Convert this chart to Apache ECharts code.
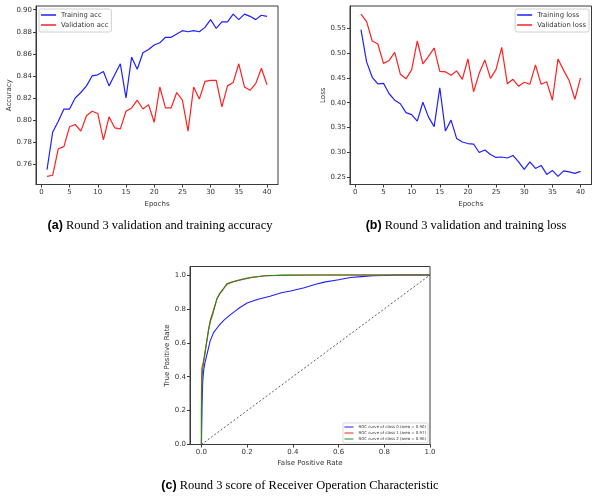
<!DOCTYPE html>
<html><head><meta charset="utf-8">
<script src="https://cdn.jsdelivr.net/npm/echarts@6/dist/echarts.min.js"></script>
<style>html,body{margin:0;padding:0;background:#fff}#c{width:600px;height:499px}</style>
</head><body><div id="c"></div>
<script>
const epochs = [1,2,3,4,5,6,7,8,9,10,11,12,13,14,15,16,17,18,19,20,21,22,23,24,25,26,27,28,29,30,31,32,33,34,35,36,37,38,39,40];
const trainAcc = [0.755,0.789,0.799,0.810,0.810,0.820,0.825,0.831,0.840,0.841,0.844,0.831,0.841,0.851,0.820,0.857,0.846,0.861,0.864,0.868,0.870,0.875,0.875,0.878,0.881,0.880,0.881,0.880,0.884,0.891,0.883,0.889,0.889,0.896,0.891,0.896,0.894,0.891,0.895,0.894];
const valAcc = [0.749,0.750,0.774,0.776,0.794,0.796,0.790,0.804,0.808,0.806,0.782,0.803,0.793,0.792,0.808,0.811,0.818,0.810,0.814,0.798,0.830,0.811,0.811,0.825,0.818,0.790,0.830,0.819,0.835,0.836,0.836,0.812,0.831,0.834,0.851,0.830,0.827,0.833,0.847,0.832];
const trainLoss = [0.547,0.482,0.451,0.438,0.439,0.418,0.405,0.398,0.380,0.376,0.363,0.401,0.371,0.352,0.430,0.343,0.365,0.328,0.321,0.318,0.317,0.300,0.305,0.296,0.290,0.291,0.289,0.294,0.281,0.266,0.281,0.268,0.274,0.256,0.264,0.252,0.263,0.261,0.258,0.262];
const valLoss = [0.578,0.563,0.524,0.518,0.479,0.485,0.501,0.457,0.448,0.466,0.524,0.478,0.493,0.510,0.463,0.462,0.455,0.464,0.447,0.488,0.422,0.459,0.486,0.449,0.467,0.511,0.438,0.447,0.433,0.441,0.437,0.476,0.437,0.442,0.405,0.488,0.465,0.444,0.407,0.450];

const roc0 = [[0,0],[0.003,0.25],[0.006,0.38],[0.01,0.44],[0.015,0.48],[0.024,0.53],[0.038,0.61],[0.053,0.66],[0.07,0.69],[0.082,0.71],[0.1,0.735],[0.126,0.765],[0.15,0.79],[0.17,0.81],[0.2,0.835],[0.244,0.855],[0.3,0.875],[0.35,0.895],[0.39,0.905],[0.45,0.925],[0.5,0.945],[0.537,0.958],[0.6,0.972],[0.652,0.985],[0.7,0.99],[0.75,0.995],[0.8,0.997],[0.85,1.0],[1.0,1.0]];
const roc1 = [[0,0],[0,0.3],[0.002,0.45],[0.009,0.49],[0.015,0.54],[0.02,0.58],[0.031,0.68],[0.04,0.74],[0.05,0.78],[0.068,0.86],[0.08,0.89],[0.09,0.91],[0.112,0.945],[0.14,0.96],[0.185,0.975],[0.22,0.985],[0.28,0.995],[0.36,0.998],[0.5,1.0],[1.0,1.0]];
const roc2 = [[0,0],[0,0.2],[0.004,0.42],[0.009,0.48],[0.015,0.53],[0.02,0.58],[0.031,0.67],[0.04,0.73],[0.05,0.77],[0.068,0.86],[0.08,0.89],[0.09,0.905],[0.112,0.95],[0.14,0.962],[0.185,0.978],[0.22,0.987],[0.28,0.995],[0.36,0.999],[0.5,1.0],[1.0,1.0]];
const diag = [[0,0],[1,1]];

const epochTicks = [0,5,10,15,20,25,30,35,40];
const accTicks = [0.76,0.78,0.80,0.82,0.84,0.86,0.88,0.90];
const lossTicks = [0.25,0.30,0.35,0.40,0.45,0.50,0.55];
const rateTicks = [0.0,0.2,0.4,0.6,0.8,1.0];

const names = {
  acc: ['Training acc','Validation acc'],
  loss: ['Training loss','Validation loss'],
  roc: ['ROC curve of class 0 (area = 0.90)','ROC curve of class 1 (area = 0.97)','ROC curve of class 2 (area = 0.96)']
};

const pair = (xs, ys) => xs.map((x, i) => [x, ys[i]]);
const F = 'DejaVu Sans';
const axisCol = '#3a3a3a';
const BLUE = '#1f1fff', RED = '#ff2020', GREEN = '#1f8f1f';

function xAx(grid, min, max, ticks, dec, name, gap) {
  return {
    type: 'value', gridIndex: grid, min: min, max: max, name: name,
    nameLocation: 'middle', nameGap: gap,
    nameTextStyle: {fontFamily: F, fontSize: 7, color: '#333'},
    axisLine: {show: true, onZero: false, lineStyle: {color: axisCol, width: 1}},
    axisTick: {show: true, length: 3, customValues: ticks, lineStyle: {color: axisCol}},
    axisLabel: {customValues: ticks, margin: 4, fontFamily: F, fontSize: 7, color: '#333',
      formatter: v => dec === 0 ? String(Math.round(v)) : v.toFixed(dec)},
    splitLine: {show: false}
  };
}
function yAx(grid, min, max, ticks, dec, name, gap) {
  return {
    type: 'value', gridIndex: grid, min: min, max: max, name: name,
    nameLocation: 'middle', nameGap: gap, nameRotate: 90,
    nameTextStyle: {fontFamily: F, fontSize: 7, color: '#333'},
    axisLine: {show: true, onZero: false, lineStyle: {color: axisCol, width: 1}},
    axisTick: {show: true, length: 3, customValues: ticks, lineStyle: {color: axisCol}},
    axisLabel: {customValues: ticks, margin: 4, fontFamily: F, fontSize: 7, color: '#333',
      formatter: v => v.toFixed(dec)},
    splitLine: {show: false}
  };
}
function line(name, data, color, xi, lw, extra) {
  return Object.assign({
    type: 'line', name: name, data: data, xAxisIndex: xi, yAxisIndex: xi,
    symbol: 'none', showSymbol: false, animation: false,
    lineStyle: {color: color, width: lw}, itemStyle: {color: color}
  }, extra || {});
}

const chart = echarts.init(document.getElementById('c'), null, {renderer: 'canvas'});
chart.setOption({
  backgroundColor: '#fff',
  animation: false,
  grid: [
    {left: 36, right: 322, top: 6, bottom: 314.5, show: true, borderColor: axisCol, borderWidth: 1},
    {left: 350, right: 8.5, top: 6, bottom: 314.5, show: true, borderColor: axisCol, borderWidth: 1},
    {left: 190, right: 170, top: 266.5, bottom: 54.5, show: true, borderColor: axisCol, borderWidth: 1}
  ],
  xAxis: [
    xAx(0, -0.95, 41.95, epochTicks, 0, 'Epochs', 16),
    xAx(1, -0.95, 41.95, epochTicks, 0, 'Epochs', 16),
    xAx(2, -0.05, 1.0, rateTicks, 1, 'False Positive Rate', 15)
  ],
  yAxis: [
    yAx(0, 0.74165, 0.90335, accTicks, 2, 'Accuracy', 23),
    yAx(1, 0.2357, 0.5943, lossTicks, 2, 'Loss', 23),
    yAx(2, 0.0, 1.05, rateTicks, 1, 'True Positive Rate', 19)
  ],
  legend: [
    {data: names.acc, orient: 'vertical', left: 39, top: 9, itemWidth: 15, itemHeight: 1.5, itemGap: 2,
     icon: 'rect', padding: [2, 3, 3, 2], borderColor: '#d0d0d0', borderWidth: 1, borderRadius: 2,
     backgroundColor: '#fff', textStyle: {fontFamily: F, fontSize: 6.8, color: '#333', lineHeight: 8}},
    {data: names.loss, orient: 'vertical', right: 11, top: 9, itemWidth: 15, itemHeight: 1.5, itemGap: 2,
     icon: 'rect', padding: [2, 3, 3, 2], borderColor: '#d0d0d0', borderWidth: 1, borderRadius: 2,
     backgroundColor: '#fff', textStyle: {fontFamily: F, fontSize: 6.8, color: '#333', lineHeight: 8}},
    {data: names.roc, orient: 'vertical', right: 172, top: 423, itemWidth: 9, itemHeight: 1, itemGap: 1,
     icon: 'rect', padding: [1.5, 2, 1.5, 1.5], borderColor: '#d0d0d0', borderWidth: 0.8, borderRadius: 1,
     backgroundColor: '#fff', textStyle: {fontFamily: F, fontSize: 3.9, color: '#333', lineHeight: 5}}
  ],
  series: [
    line(names.acc[0], pair(epochs, trainAcc), BLUE, 0, 1.2),
    line(names.acc[1], pair(epochs, valAcc), RED, 0, 1.2),
    line(names.loss[0], pair(epochs, trainLoss), BLUE, 1, 1.2),
    line(names.loss[1], pair(epochs, valLoss), RED, 1, 1.2),
    line(names.roc[0], roc0, BLUE, 2, 1.1),
    line(names.roc[1], roc1, RED, 2, 1.1),
    line(names.roc[2], roc2, GREEN, 2, 1.1),
    line('diag', diag, '#333', 2, 0.8, {lineStyle: {color: '#333', width: 0.8, type: [2, 2]}})
  ],
  graphic: [
    {type: 'text', x: 160, y: 226, style: {text: '{b|(a)} Round 3 validation and training accuracy',
      align: 'center', verticalAlign: 'middle', fontFamily: 'Liberation Serif', fontSize: 12.5, fill: '#000',
      rich: {b: {fontFamily: 'Liberation Sans', fontWeight: 'bold', fontSize: 12.5, fill: '#000'}}}},
    {type: 'text', x: 466, y: 226, style: {text: '{b|(b)} Round 3 validation and training loss',
      align: 'center', verticalAlign: 'middle', fontFamily: 'Liberation Serif', fontSize: 12.5, fill: '#000',
      rich: {b: {fontFamily: 'Liberation Sans', fontWeight: 'bold', fontSize: 12.5, fill: '#000'}}}},
    {type: 'text', x: 300, y: 486, style: {text: '{b|(c)} Round 3 score of Receiver Operation Characteristic',
      align: 'center', verticalAlign: 'middle', fontFamily: 'Liberation Serif', fontSize: 12.5, fill: '#000',
      rich: {b: {fontFamily: 'Liberation Sans', fontWeight: 'bold', fontSize: 12.5, fill: '#000'}}}}
  ]
});
</script></body></html>
